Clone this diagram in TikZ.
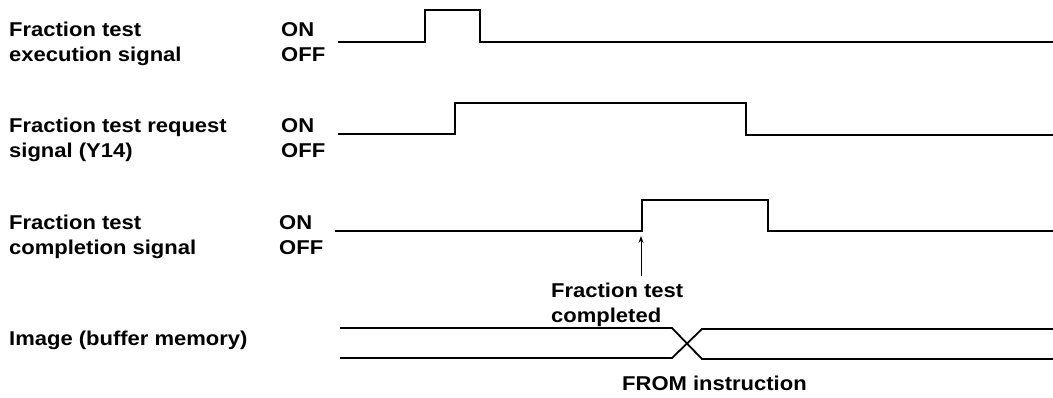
\documentclass[tikz,border=0pt]{standalone}
\usepackage{fontspec}
\setmainfont{Liberation Sans}[FakeStretch=1.1]
\usetikzlibrary{arrows.meta}
\begin{document}
\begin{tikzpicture}[x=1pt,y=-1pt,
  lbl/.style={anchor=base west,inner sep=0pt,font=\fontsize{20}{25}\selectfont\bfseries},
  sig/.style={line width=1.8pt,line join=miter},
  pointer/.style={line width=1pt,-{Stealth[length=7pt,width=5pt]}}]
\useasboundingbox[fill=white] (0,0) rectangle (1053,398);
% left labels
\node[lbl] (l1a) at (9,37) {Fraction test};
\node[lbl] (l1b) at (9,62) {execution signal};
\node[lbl] (l2a) at (9,133) {Fraction test request};
\node[lbl] (l2b) at (9,158) {signal (Y14)};
\node[lbl] (l3a) at (9,230) {Fraction test};
\node[lbl] (l3b) at (9,255) {completion signal};
\node[lbl] (l4) at (9,345) {Image (buffer memory)};
% ON/OFF
\node[lbl] (on1) at (281,37) {ON};
\node[lbl] (off1) at (281,62) {OFF};
\node[lbl] (on2) at (281,133) {ON};
\node[lbl] (off2) at (281,158) {OFF};
\node[lbl] (on3) at (279,230) {ON};
\node[lbl] (off3) at (279,255) {OFF};
% waveforms
\draw[sig] (338,42) -- (425,42) -- (425,10) -- (480,10) -- (480,42) -- (1053,42);
\draw[sig] (338,134) -- (455,134) -- (455,103) -- (746,103) -- (746,135) -- (1053,135);
\draw[sig] (335,231) -- (642,231) -- (642,200) -- (768,200) -- (768,231) -- (1053,231);
% bus
\draw[sig] (340,328) -- (672,328) -- (702,359) -- (1053,359);
\draw[sig] (340,358) -- (672,358) -- (702,329) -- (1053,329);
% annotation
\node[lbl] (fc1) at (551,298) {Fraction test};
\node[lbl] (fc2) at (551,323) {completed};
\coordinate (tail) at (641,276);
\coordinate (tip) at (641,236);
\draw[pointer] (tail) -- (tip);
\node[lbl] (from) at (622,390) {FROM instruction};
\end{tikzpicture}
\end{document}
